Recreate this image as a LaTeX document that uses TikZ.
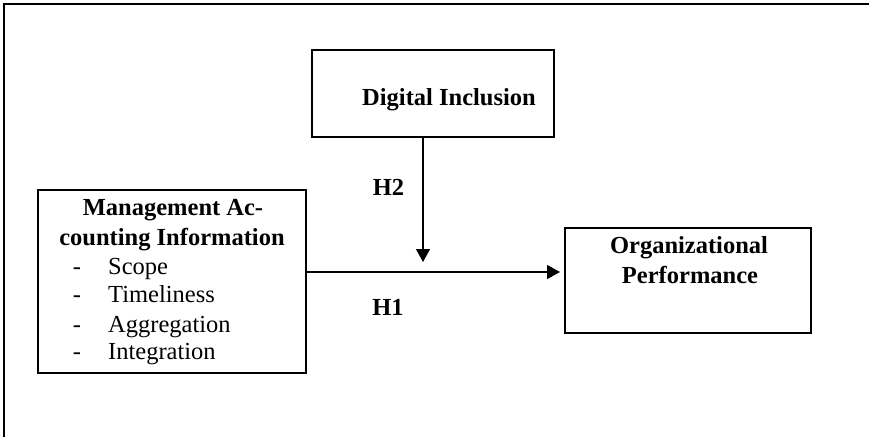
\documentclass[tikz,border=0pt]{standalone}
\usepackage{fontspec}
\setmainfont{Liberation Serif}
\usepackage{tikz}
\usetikzlibrary{arrows.meta}

\begin{document}
\begin{tikzpicture}[x=1pt,y=-1pt]
  \tikzstyle{box}=[draw,line width=2pt,inner sep=0pt]
  \tikzstyle{lbl}=[inner sep=0pt,anchor=base,font=\fontsize{24.5}{29}\selectfont]
  \tikzstyle{hyp}=[-{Triangle[length=13pt,width=14pt]},line width=1.2pt]
  \useasboundingbox (0,0) rectangle (869,437);
  \draw[line width=2.5pt] (4,437) -- (4,4) -- (869,4);
  % boxes
  \path (433,93.5) node[box,minimum width=242pt,minimum height=87pt] (DI) {};
  \path (172,281.5) node[box,minimum width=268pt,minimum height=183pt] (MAI) {};
  \path (688,280.5) node[box,minimum width=246pt,minimum height=105pt] (OP) {};
  % texts
  \path (449,105) node[lbl,font=\fontsize{24.5}{29}\selectfont\bfseries] (DItext) {Digital Inclusion};
  \path (173,215) node[lbl,font=\fontsize{24.5}{29}\selectfont\bfseries] (MAItop) {Management Ac-};
  \path (172,245) node[lbl,font=\fontsize{24.5}{29}\selectfont\bfseries] (MAIbot) {counting Information};
  \foreach \item/\y [count=\i] in {Scope/274,Timeliness/302,Aggregation/332,Integration/359}
    {
    \path (77,\y) node[lbl] (dash\i) {-};
    \path (108,\y) node[lbl,anchor=base west] (item\i) {\item};
    }
  \path (689,253) node[lbl,font=\fontsize{24.5}{29}\selectfont\bfseries] (OPtop) {Organizational};
  \path (690,283) node[lbl,font=\fontsize{24.5}{29}\selectfont\bfseries] (OPbot) {Performance};
  \path (388.5,195) node[lbl,font=\fontsize{24.5}{29}\selectfont\bfseries] (H2) {H2};
  \path (388,315) node[lbl,font=\fontsize{24.5}{29}\selectfont\bfseries] (H1) {H1};
  % arrows
  \coordinate (meet) at (423,262);
  \coordinate (h1y) at (0,272);
  \draw[hyp] (DI.south -| meet) -- (meet);
  \draw[hyp,shorten >=4pt] (MAI.east |- h1y) -- (OP.west |- h1y);
\end{tikzpicture}
\end{document}
